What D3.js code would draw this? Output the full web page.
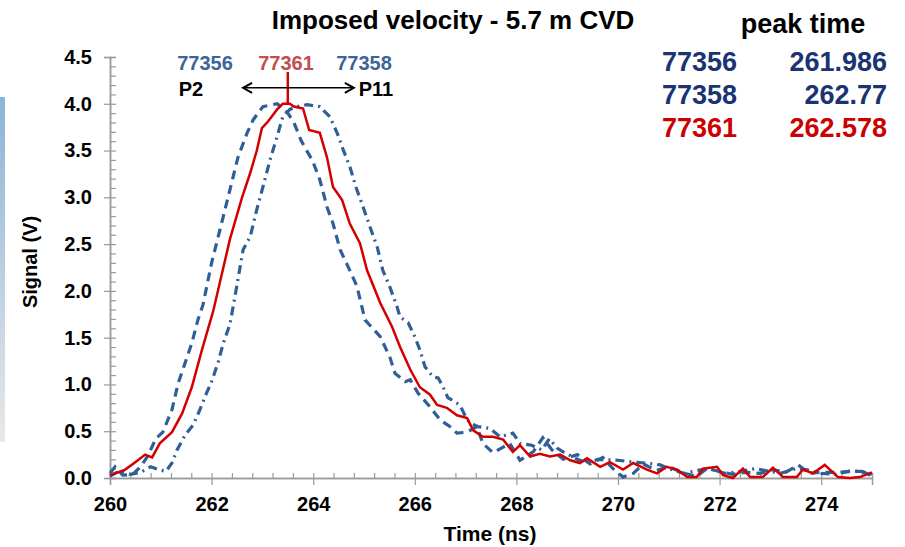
<!DOCTYPE html>
<html>
<head>
<meta charset="utf-8">
<script src="https://cdn.jsdelivr.net/npm/d3@7"></script>
<style>
  body { margin: 0; background: #fff; }
  svg { display: block; font-family: "Liberation Sans", Arial, sans-serif; }
</style>
</head>
<body>
<script>
// ---- data ----
var xTicks = [260, 262, 264, 266, 268, 270, 272, 274];
var yTicks = [0, 0.5, 1, 1.5, 2, 2.5, 3, 3.5, 4, 4.5];

// 77361 (red, solid)
var t77361 = [260.0, 260.3, 260.55, 260.69, 260.83, 260.98, 261.22, 261.42, 261.61, 261.81, 262.03, 262.36, 262.6, 262.76, 262.89, 262.99, 263.11, 263.29, 263.4, 263.54, 263.62, 263.8, 263.92, 264.13, 264.27, 264.39, 264.57, 264.72, 264.92, 265.06, 265.32, 265.55, 265.71, 265.91, 266.1, 266.3, 266.44, 266.63, 266.83, 267.03, 267.15, 267.34, 267.54, 267.74, 267.93, 268.07, 268.27, 268.46, 268.66, 268.86, 269.06, 269.25, 269.39, 269.65, 269.84, 270.1, 270.3, 270.57, 270.77, 270.96, 271.16, 271.36, 271.55, 271.67, 271.95, 272.07, 272.26, 272.46, 272.6, 272.85, 273.05, 273.25, 273.52, 273.64, 273.84, 274.07, 274.33, 274.56, 274.76, 275.0];
var v77361 = [0.03, 0.09, 0.19, 0.25, 0.22, 0.37, 0.49, 0.69, 0.97, 1.37, 1.78, 2.55, 3.0, 3.26, 3.5, 3.74, 3.81, 3.94, 4.0, 4.0, 3.97, 3.95, 3.72, 3.69, 3.43, 3.11, 2.97, 2.72, 2.51, 2.22, 1.87, 1.62, 1.4, 1.16, 0.97, 0.89, 0.78, 0.75, 0.67, 0.64, 0.51, 0.44, 0.44, 0.41, 0.28, 0.35, 0.23, 0.26, 0.23, 0.25, 0.19, 0.16, 0.21, 0.12, 0.17, 0.09, 0.16, 0.09, 0.05, 0.12, 0.09, 0.01, 0.01, 0.1, 0.12, 0.03, 0.0, 0.1, 0.01, 0.01, 0.11, 0.01, 0.01, 0.09, 0.05, 0.14, 0.01, 0.0, 0.01, 0.06];

// 77356 (blue, dashed)
var t77356 = [260.0, 260.1, 260.25, 260.45, 260.6, 260.75, 260.9, 261.04, 261.22, 261.34, 261.61, 261.73, 261.83, 262.0, 262.2, 262.36, 262.52, 262.7, 262.82, 263.01, 263.29, 263.5, 263.62, 263.76, 263.86, 263.98, 264.13, 264.27, 264.39, 264.53, 264.72, 264.86, 265.02, 265.32, 265.51, 265.61, 265.81, 265.91, 266.06, 266.3, 266.5, 266.69, 266.83, 267.03, 267.22, 267.34, 267.54, 267.74, 267.87, 268.07, 268.33, 268.52, 268.7, 268.92, 269.2, 269.45, 269.7, 269.9, 270.1, 270.3, 270.5, 270.75, 271.0, 271.3, 271.55, 271.75, 272.0, 272.25, 272.5, 272.8, 273.05, 273.3, 273.55, 273.75, 274.0, 274.3, 274.6, 274.8, 275.0];
var v77356 = [0.05, 0.12, 0.03, 0.04, 0.12, 0.24, 0.42, 0.49, 0.73, 1.01, 1.44, 1.69, 1.85, 2.3, 2.73, 3.08, 3.43, 3.69, 3.83, 3.97, 4.0, 3.9, 3.8, 3.61, 3.51, 3.4, 3.19, 2.9, 2.72, 2.44, 2.22, 2.05, 1.69, 1.51, 1.29, 1.12, 1.03, 1.05, 0.91, 0.76, 0.62, 0.55, 0.48, 0.49, 0.55, 0.37, 0.27, 0.33, 0.37, 0.19, 0.28, 0.43, 0.3, 0.2, 0.25, 0.15, 0.22, 0.1, 0.01, 0.05, 0.15, 0.08, 0.12, 0.05, 0.02, 0.1, 0.07, 0.04, 0.06, 0.05, 0.09, 0.06, 0.14, 0.05, 0.06, 0.06, 0.07, 0.07, 0.04];

// 77358 (blue, dash-dot)
var t77358 = [260.0, 260.2, 260.4, 260.6, 260.8, 260.95, 261.1, 261.22, 261.32, 261.48, 261.64, 261.77, 261.87, 262.0, 262.13, 262.23, 262.36, 262.46, 262.62, 262.76, 262.89, 263.01, 263.15, 263.29, 263.4, 263.54, 263.68, 263.88, 264.13, 264.33, 264.47, 264.59, 264.72, 264.86, 264.98, 265.12, 265.26, 265.37, 265.51, 265.65, 265.71, 265.87, 266.0, 266.1, 266.2, 266.36, 266.46, 266.56, 266.65, 266.89, 267.03, 267.22, 267.48, 267.68, 267.93, 268.07, 268.3, 268.5, 268.65, 268.8, 268.92, 269.2, 269.4, 269.6, 270.0, 270.3, 270.55, 270.83, 271.0, 271.3, 271.55, 271.8, 272.1, 272.4, 272.7, 272.9, 273.2, 273.5, 273.7, 274.0, 274.3, 274.6, 274.85, 275.0];
var v77358 = [0.02, 0.08, 0.04, 0.06, 0.12, 0.09, 0.07, 0.16, 0.3, 0.46, 0.57, 0.73, 0.87, 1.03, 1.24, 1.44, 1.64, 1.94, 2.44, 2.58, 2.87, 3.11, 3.4, 3.65, 3.86, 3.94, 3.97, 3.99, 3.97, 3.86, 3.69, 3.51, 3.33, 3.08, 2.9, 2.68, 2.47, 2.22, 2.04, 1.83, 1.72, 1.66, 1.51, 1.37, 1.19, 1.08, 1.07, 0.97, 0.86, 0.78, 0.62, 0.55, 0.53, 0.44, 0.48, 0.37, 0.35, 0.3, 0.42, 0.32, 0.28, 0.2, 0.16, 0.2, 0.19, 0.17, 0.16, 0.14, 0.1, 0.05, 0.08, 0.1, 0.05, 0.07, 0.1, 0.08, 0.05, 0.1, 0.09, 0.05, 0.04, 0.08, 0.06, 0.02];

// peak-time table
var tableIds = ['77356', '77358', '77361'];
var tablePeaks = ['261.986', '262.77', '262.578'];
var tableColors = ['#1a3372', '#1a3372', '#cc0000'];

// ---- drawing ----
var svg = d3.select('body').append('svg')
    .attr('width', 905)
    .attr('height', 547);

var x = d3.scaleLinear().domain([260, 275]).range([110, 872]);
var y = d3.scaleLinear().domain([0, 4.5]).range([478, 57]);

// blue bar at the left edge
var grad = svg.append('defs').append('linearGradient')
    .attr('id', 'sidebar').attr('x1', 0).attr('y1', 0).attr('x2', 0).attr('y2', 1);
grad.append('stop').attr('offset', '0%').attr('stop-color', '#8cb4d8');
grad.append('stop').attr('offset', '100%').attr('stop-color', '#e8e8e8');
svg.append('rect')
    .attr('x', 0).attr('y', 97).attr('width', 5).attr('height', 345)
    .attr('fill', 'url(#sidebar)');

// axes
var minorY = d3.range(0, 4.51, 0.1);
var minorX = d3.range(260, 274.9, 0.4);

var yMinor = svg.append('g')
    .attr('transform', 'translate(110,0)')
    .call(d3.axisRight(y).tickValues(minorY).tickSize(6).tickFormat(''));
var yMajor = svg.append('g')
    .attr('transform', 'translate(110,0)')
    .call(d3.axisLeft(y).tickValues(yTicks).tickSize(6).tickPadding(12).tickFormat(d3.format('.1f')));

var xMinor = svg.append('g')
    .attr('transform', 'translate(0,478)')
    .call(d3.axisTop(x).tickValues(minorX).tickSize(5).tickFormat(''));
var xMajor = svg.append('g')
    .attr('transform', 'translate(0,478)')
    .call(d3.axisBottom(x).tickValues(xTicks).tickSize(7).tickPadding(12).tickFormat(d3.format('d')));

[yMinor, yMajor, xMinor, xMajor].forEach(function (g) {
    g.selectAll('path').attr('stroke', '#9a9a9a').attr('stroke-width', 1.5);
    g.selectAll('line').attr('stroke', '#9a9a9a').attr('stroke-width', 1.2);
    g.selectAll('text')
        .attr('fill', '#000')
        .attr('font-size', 20)
        .attr('font-weight', 'bold')
        .attr('font-family', '"Liberation Sans", Arial, sans-serif');
});

// curves
var line = d3.line()
    .x(function (d) { return x(d[0]); })
    .y(function (d) { return y(d[1]); });

function pairs(ts, vs) {
    return ts.map(function (t, i) { return [t, vs[i]]; });
}

svg.append('path')
    .datum(pairs(t77358, v77358))
    .attr('d', line)
    .attr('fill', 'none')
    .attr('stroke', '#2f5f96')
    .attr('stroke-width', 3.2)
    .attr('stroke-dasharray', '9,5,2,5');

svg.append('path')
    .datum(pairs(t77356, v77356))
    .attr('d', line)
    .attr('fill', 'none')
    .attr('stroke', '#2f5f96')
    .attr('stroke-width', 3.2)
    .attr('stroke-dasharray', '9,6');

svg.append('path')
    .datum(pairs(t77361, v77361))
    .attr('d', line)
    .attr('fill', 'none')
    .attr('stroke', '#d40000')
    .attr('stroke-width', 2.5);

// peak marker and spread arrow
svg.append('line')
    .attr('x1', x(263.5)).attr('x2', x(263.5))
    .attr('y1', y(4.0)).attr('y2', y(4.34))
    .attr('stroke', '#d40000').attr('stroke-width', 2.5);

var arrowY = y(4.17);
svg.append('line')
    .attr('x1', x(262.62)).attr('x2', x(264.8))
    .attr('y1', arrowY).attr('y2', arrowY)
    .attr('stroke', '#000').attr('stroke-width', 1.5);
[[262.62, 1], [264.8, -1]].forEach(function (a) {
    var ax = x(a[0]);
    svg.append('path')
        .attr('d', 'M' + (ax + a[1] * 9) + ',' + (arrowY - 5) + 'L' + ax + ',' + arrowY + 'L' + (ax + a[1] * 9) + ',' + (arrowY + 5))
        .attr('fill', 'none').attr('stroke', '#000').attr('stroke-width', 2);
});

// labels above the peak
var topLabels = svg.append('g')
    .attr('font-size', 20).attr('font-weight', 'bold').attr('text-anchor', 'middle');
topLabels.append('text').attr('x', 205).attr('y', 70).attr('fill', '#3c6597').text('77356');
topLabels.append('text').attr('x', 286).attr('y', 70).attr('fill', '#c0504d').text('77361');
topLabels.append('text').attr('x', 364).attr('y', 70).attr('fill', '#3c6597').text('77358');
topLabels.append('text').attr('x', 191).attr('y', 96).attr('fill', '#000').text('P2');
topLabels.append('text').attr('x', 376).attr('y', 96).attr('fill', '#000').text('P11');

// title
svg.append('text')
    .attr('x', 453).attr('y', 29)
    .attr('text-anchor', 'middle')
    .attr('font-size', 26).attr('font-weight', 'bold')
    .text('Imposed velocity - 5.7 m CVD');

// peak time table
svg.append('text')
    .attr('x', 803).attr('y', 33)
    .attr('text-anchor', 'middle')
    .attr('font-size', 27).attr('font-weight', 'bold')
    .text('peak time');

tableIds.forEach(function (id, i) {
    svg.append('text')
        .attr('x', 662).attr('y', 71 + i * 33)
        .attr('font-size', 27).attr('font-weight', 'bold')
        .attr('fill', tableColors[i])
        .text(id);
    svg.append('text')
        .attr('x', 887).attr('y', 71 + i * 33)
        .attr('text-anchor', 'end')
        .attr('font-size', 27).attr('font-weight', 'bold')
        .attr('fill', tableColors[i])
        .text(tablePeaks[i]);
});

// axis titles
svg.append('text')
    .attr('transform', 'translate(37,262) rotate(-90)')
    .attr('text-anchor', 'middle')
    .attr('font-size', 20).attr('font-weight', 'bold')
    .text('Signal (V)');

svg.append('text')
    .attr('x', 490).attr('y', 541)
    .attr('text-anchor', 'middle')
    .attr('font-size', 21).attr('font-weight', 'bold')
    .text('Time (ns)');
</script>
</body>
</html>
